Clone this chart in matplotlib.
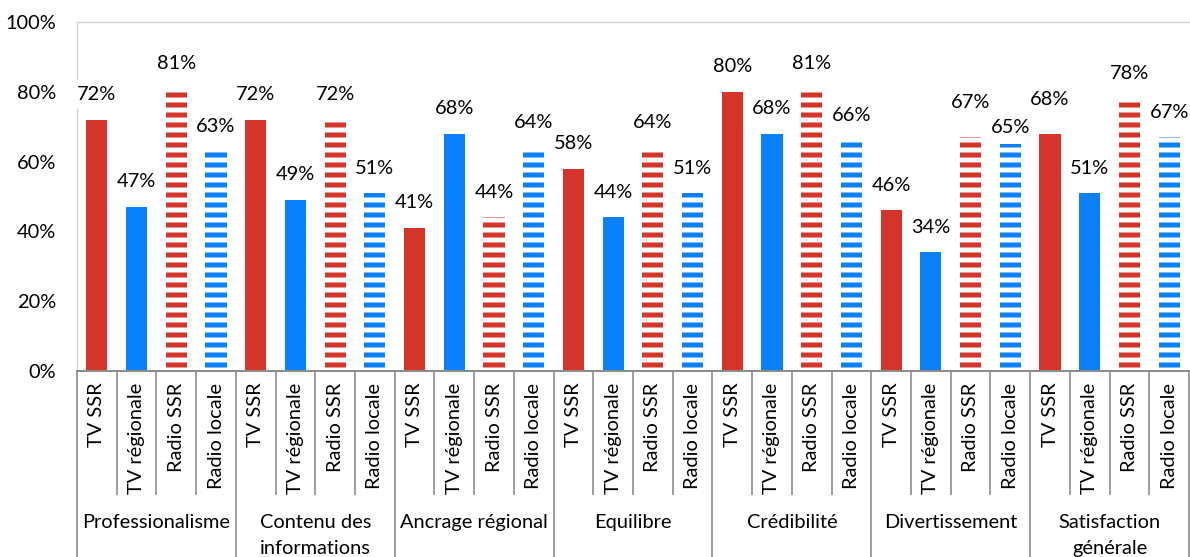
#!/usr/bin/env python3
"""Satisfaction par critère et par média (TV SSR, TV régionale, Radio SSR, Radio locale)."""

import matplotlib

matplotlib.use("Agg")
import matplotlib.pyplot as plt
from matplotlib.ticker import FuncFormatter

CRITERIA = [
    "Professionalisme",
    "Contenu des\ninformations",
    "Ancrage régional",
    "Equilibre",
    "Crédibilité",
    "Divertissement",
    "Satisfaction\ngénérale",
]
MEDIA = ["TV SSR", "TV régionale", "Radio SSR", "Radio locale"]

TV_SSR = [72, 72, 41, 58, 80, 46, 68]
TV_REGIONALE = [47, 49, 68, 44, 68, 34, 51]
RADIO_SSR = [81, 72, 44, 64, 81, 67, 78]
RADIO_LOCALE = [63, 51, 64, 51, 66, 65, 67]

Y_TICKS = [0, 20, 40, 60, 80, 100]

RED = "#D5342A"
BLUE = "#0A80FA"
AXIS_GRAY = "#8C8C8C"
LIGHT_GRAY = "#D4D4D4"

DPI = 120
FONT_SIZE = 12

# labels that were moved by hand in the original (extra pixels upward)
LABEL_OFFSET_PX = 25
LABEL_NUDGE_PX = {(5, 2): 10, (5, 3): -8, (6, 0): 9}

plt.rcParams["font.family"] = ["Lato", "DejaVu Sans"]
plt.rcParams["hatch.linewidth"] = 3.0


def main() -> None:
    series = [TV_SSR, TV_REGIONALE, RADIO_SSR, RADIO_LOCALE]
    styles = [
        dict(color=RED),
        dict(color=BLUE),
        dict(color="white", edgecolor=RED, linewidth=0, hatch="--"),
        dict(color="white", edgecolor=BLUE, linewidth=0, hatch="--"),
    ]
    n_media = len(MEDIA)
    n_groups = len(CRITERIA)

    fig = plt.figure(figsize=(1190 / DPI, 557 / DPI), dpi=DPI)
    ax = fig.add_axes([77 / 1190, 186 / 557, 1112 / 1190, 349 / 557])

    for m, (values, style) in enumerate(zip(series, styles)):
        xs = [g * n_media + m for g in range(n_groups)]
        ax.bar(xs, values, width=0.53, zorder=2, **style)

    # value labels, drawn group by group so later boxes overlap earlier ones
    for g in range(n_groups):
        for m, values in enumerate(series):
            offset = LABEL_OFFSET_PX + LABEL_NUDGE_PX.get((g, m), 0)
            ax.annotate(
                f"{values[g]}%",
                xy=(g * n_media + m, values[g]),
                xytext=(0, offset * 72 / DPI),
                textcoords="offset points",
                ha="center",
                va="center",
                fontsize=FONT_SIZE,
                zorder=4,
                bbox=dict(boxstyle="square,pad=0.3", fc="white", ec="none"),
            )

    ax.set_xlim(-0.5, n_groups * n_media - 0.5)
    ax.set_ylim(0, 100)
    ax.set_yticks(Y_TICKS)
    ax.yaxis.set_major_formatter(FuncFormatter(lambda v, _: f"{v:.0f}%"))
    ax.tick_params(axis="y", length=0, pad=21 * 72 / DPI, labelsize=FONT_SIZE)

    # category separators as long ticks below the axis
    group_edges = [g * n_media - 0.5 for g in range(n_groups + 1)]
    inner_edges = [
        g * n_media + m - 0.5 for g in range(n_groups) for m in range(1, n_media)
    ]
    ax.set_xticks(group_edges)
    ax.set_xticks(inner_edges, minor=True)
    ax.tick_params(
        axis="x", which="major", length=190 * 72 / DPI, width=1.0,
        color=AXIS_GRAY, labelbottom=False,
    )
    ax.tick_params(
        axis="x", which="minor", length=124 * 72 / DPI, width=1.0,
        color=AXIS_GRAY, labelbottom=False,
    )

    for g in range(n_groups):
        for m, name in enumerate(MEDIA):
            ax.text(
                g * n_media + m, -0.034, name,
                transform=ax.get_xaxis_transform(),
                rotation=90, ha="center", va="top", fontsize=FONT_SIZE,
            )
        ax.text(
            g * n_media + (n_media - 1) / 2, -0.41, CRITERIA[g],
            transform=ax.get_xaxis_transform(),
            ha="center", va="top", fontsize=FONT_SIZE, linespacing=1.65,
        )

    ax.spines["right"].set_visible(False)
    ax.spines["left"].set_color(LIGHT_GRAY)
    ax.spines["top"].set_color(LIGHT_GRAY)
    ax.spines["bottom"].set_color(AXIS_GRAY)
    ax.spines["bottom"].set_linewidth(1.2)
    ax.spines["left"].set_zorder(1)

    fig.savefig("out.png", dpi=DPI)
    plt.close(fig)


if __name__ == "__main__":
    main()
